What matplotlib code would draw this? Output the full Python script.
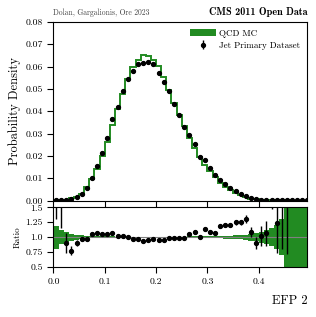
import numpy as np
import matplotlib
matplotlib.use('Agg')
import matplotlib.pyplot as plt
from matplotlib.patches import Patch

plt.rcParams['font.family'] = 'serif'
plt.rcParams['font.serif'] = ['cmr10']
plt.rcParams['mathtext.fontset'] = 'cm'
plt.rcParams['axes.formatter.use_mathtext'] = True

# bin centres of EFP 2 (width 0.01)
bin_lo = 0.0
bin_w = 0.01
n_bins = 50

# Jet Primary Dataset, probability density
data = [0.00003, 0.00008, 0.0003, 0.0007, 0.0014, 0.0030, 0.0057, 0.0100, 0.0153, 0.0211,
        0.0278, 0.0363, 0.0419, 0.0492, 0.0546, 0.0580, 0.0613, 0.0616, 0.0622, 0.0613,
        0.0571, 0.0529, 0.0489, 0.0433, 0.0381, 0.0330, 0.0293, 0.0253, 0.0196, 0.0180,
        0.0145, 0.0112, 0.0092, 0.0073, 0.0057, 0.0042, 0.0030, 0.0018, 0.0009, 0.0006,
        0.0004, 0.00025, 0.00015, 0.0001, 0.00007, 0.00005, 0.00003, 0.00003, 0.00002, 0.00002]

# QCD MC, probability density
mc = [0.00001, 0.00004, 0.00033, 0.0009, 0.00154, 0.0031, 0.00583, 0.00952, 0.0142, 0.0200,
      0.0264, 0.0339, 0.0410, 0.0479, 0.0546, 0.0597, 0.0631, 0.0653, 0.0648, 0.0631,
      0.0601, 0.0551, 0.0494, 0.0437, 0.0385, 0.0333, 0.0279, 0.0234, 0.0196, 0.0158,
      0.0134, 0.0104, 0.0078, 0.0060, 0.00475, 0.00336, 0.0024, 0.00137, 0.00083, 0.00067,
      0.00039, 0.00023, 0.00008, 0.00008, 0.00004, 0.00003, 0.0, 0.0, 0.0, 0.0]

# data / MC ratio and its error
ratio = [2.0, 1.7, 0.90, 0.777, 0.91, 0.967, 0.977, 1.05, 1.077, 1.055,
         1.055, 1.072, 1.022, 1.027, 1.0, 0.972, 0.972, 0.944, 0.96, 0.972,
         0.95, 0.96, 0.99, 0.99, 0.99, 0.99, 1.05, 1.083, 1.0, 1.138,
         1.083, 1.072, 1.183, 1.21, 1.2, 1.25, 1.25, 1.31, 1.088, 0.9,
         1.02, 1.067, 2.0, 1.233, 1.8, 1.8, np.nan, np.nan, np.nan, np.nan]
ratio_err = [0.7, 0.55, 0.167, 0.08, 0.05, 0.03, 0.015, 0.012, 0.012, 0.012,
             0.01, 0.01, 0.01, 0.01, 0.01, 0.01, 0.01, 0.01, 0.01, 0.01,
             0.01, 0.01, 0.01, 0.01, 0.01, 0.01, 0.012, 0.012, 0.012, 0.015,
             0.015, 0.018, 0.02, 0.03, 0.03, 0.04, 0.045, 0.07, 0.08, 0.1,
             0.17, 0.21, 0.52, 0.5, 1.0, 1.08, 0, 0, 0, 0]

# relative MC uncertainty band
mc_rel = [0.19, 0.12, 0.08, 0.055, 0.04, 0.03, 0.025, 0.02, 0.016, 0.015,
          0.014, 0.013, 0.012, 0.012, 0.012, 0.012, 0.012, 0.012, 0.012, 0.012,
          0.012, 0.012, 0.012, 0.012, 0.012, 0.012, 0.013, 0.013, 0.014, 0.015,
          0.015, 0.017, 0.02, 0.022, 0.025, 0.03, 0.035, 0.045, 0.055, 0.07,
          0.09, 0.12, 0.15, 0.2, 0.3, 1.0, 1.0, 1.0, 1.0, 1.0]

edges = bin_lo + bin_w * np.arange(n_bins + 1)
centres = 0.5 * (edges[:-1] + edges[1:])
data = np.array(data)
mc = np.array(mc)
ratio = np.array(ratio)
ratio_err = np.array(ratio_err)
mc_rel = np.array(mc_rel)

green = '#228b22'

fig = plt.figure(figsize=(3.16, 3.17), dpi=100)
ax = fig.add_axes([0.169, 0.3675, 0.804, 0.5635])
rax = fig.add_axes([0.169, 0.157, 0.804, 0.189])

# main panel
ax.stairs(mc, edges, color=green, lw=1.4)
ax.errorbar(centres, data, yerr=np.sqrt(data) * 0.0005, fmt='o', color='black',
            ms=2.8, elinewidth=1.0, capsize=0)
ax.set_xlim(0, 0.495)
ax.set_ylim(0, 0.08)
ax.set_yticks(np.arange(0, 0.081, 0.01))
ax.set_yticklabels(['%.2f' % v for v in np.arange(0, 0.081, 0.01)])
ax.set_xticks([0.0, 0.1, 0.2, 0.3, 0.4])
ax.tick_params(axis='x', labelbottom=False)
ax.tick_params(direction='out', length=4, width=0.8, labelsize=7)
ax.set_ylabel('Probability Density', fontsize=9, labelpad=3)

handles = [Patch(facecolor=green, edgecolor='none'),
           ax.errorbar([], [], yerr=[], fmt='o', color='black', ms=2.8, elinewidth=1.0)]
ax.legend(handles, ['QCD MC', 'Jet Primary Dataset'], loc='upper right',
          frameon=False, fontsize=6.5, handlelength=2.8, borderaxespad=0.4,
          handletextpad=0.4, labelspacing=0.45)

fig.text(0.169, 0.945, 'Dolan, Gargalionis, Ore 2023', fontsize=5.5, color='#444444',
         ha='left', va='bottom')
fig.text(0.973, 0.945, 'CMS 2011 Open Data', fontsize=7.3, ha='right', va='bottom',
         family='cmb10')

# ratio panel
rax.fill_between(edges, np.append(1 - mc_rel, 1 - mc_rel[-1]),
                 np.append(1 + mc_rel, 1 + mc_rel[-1]), step='post',
                 color=green, lw=0)
rax.axhline(1.0, color='grey', lw=0.8)
rax.errorbar(centres, ratio, yerr=ratio_err, fmt='o', color='black',
             ms=2.8, elinewidth=1.0, capsize=0)
rax.set_xlim(0, 0.495)
rax.set_ylim(0.5, 1.5)
rax.set_yticks([0.5, 0.75, 1.0, 1.25, 1.5])
rax.set_yticklabels(['0.5', '0.75', '1.0', '1.25', '1.5'])
rax.set_xticks([0.0, 0.1, 0.2, 0.3, 0.4])
rax.set_xticklabels(['0.0', '0.1', '0.2', '0.3', '0.4'])
rax.tick_params(direction='out', length=4, width=0.8, labelsize=7)
rax.set_ylabel('Ratio', fontsize=6.5, labelpad=3)

fig.text(0.973, 0.03, 'EFP 2', fontsize=9, ha='right', va='bottom')

fig.savefig('out.png', dpi=100)
